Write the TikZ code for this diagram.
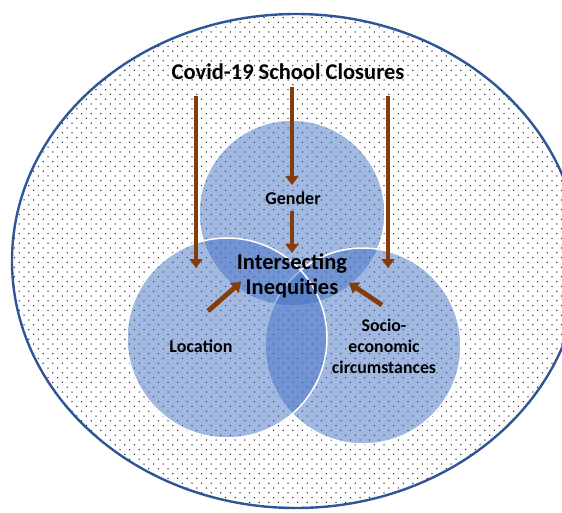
\documentclass[tikz,border=0pt]{standalone}
\usepackage{fontspec}
\setmainfont{Carlito}
\usetikzlibrary{patterns,arrows.meta}
\pgfdeclarepatternformonly{softdots}{\pgfqpoint{-1pt}{-1pt}}{\pgfqpoint{10.6pt}{10.6pt}}{\pgfqpoint{9.6pt}{9.6pt}}{%
  \pgfpathcircle{\pgfqpoint{0pt}{0pt}}{0.75pt}%
  \pgfpathcircle{\pgfqpoint{4.8pt}{4.8pt}}{0.75pt}%
  \pgfusepath{fill}}
\definecolor{rim}{HTML}{2F5597}
\definecolor{bub}{HTML}{4472C4}
\definecolor{brownarrow}{HTML}{843C0C}
\tikzset{
  outer/.style={draw=rim, line width=2.4pt, pattern=softdots, pattern color=black!85},
  bubble/.style={fill=bub, fill opacity=0.5, draw=white, draw opacity=1, line width=1.5pt},
  push/.style={draw=brownarrow, line width=4.8pt, -{Triangle[width=13pt,length=9pt]}},
  lbl/.style={font=\bfseries, align=center, text=black, inner sep=0pt}
}
\begin{document}
\begin{tikzpicture}[x=1pt,y=-1pt]
\useasboundingbox (0,0) rectangle (562,512);
\begin{scope}
\clip (0,0) rectangle (562,512);
\fill[white] (296,261) ellipse [x radius=284, y radius=247];
\draw[outer] (296,261) ellipse [x radius=284, y radius=247];
\end{scope}
\draw[bubble] (292,213) circle [radius=93];
\draw[bubble] (363,346) circle [radius=98];
\draw[bubble] (227,338) circle [radius=100];

\node[lbl, font=\bfseries\fontsize{22.5}{26}\selectfont] (title) at (288,72) {Covid-19 School Closures};
\node[lbl, font=\bfseries\fontsize{18}{21}\selectfont] (gender) at (293,198) {Gender};
\node[lbl, font=\bfseries\fontsize{22.5}{25}\selectfont] (inter) at (292,276) {Intersecting\\Inequities};
\node[lbl, font=\bfseries\fontsize{18}{21}\selectfont] (loc) at (201,346) {Location};
\node[lbl, font=\bfseries\fontsize{17.8}{21}\selectfont] (socio) at (384,346) {Socio-\\economic\\circumstances};

\coordinate (la) at (196,96);  \coordinate (lb) at (196,268);
\coordinate (ma) at (292,87);  \coordinate (mb) at (292,185);
\coordinate (mc) at (292,211); \coordinate (md) at (292,253);
\coordinate (ra) at (388,96);  \coordinate (rb) at (388,268);
\coordinate (da) at (208,311); \coordinate (db) at (241,282);
\coordinate (ea) at (382,305); \coordinate (eb) at (349,283);
\draw[push] (la) -- (lb);
\draw[push] (ma) -- (mb);
\draw[push] (mc) -- (md);
\draw[push] (ra) -- (rb);
\draw[push] (da) -- (db);
\draw[push] (ea) -- (eb);
\end{tikzpicture}
\end{document}
